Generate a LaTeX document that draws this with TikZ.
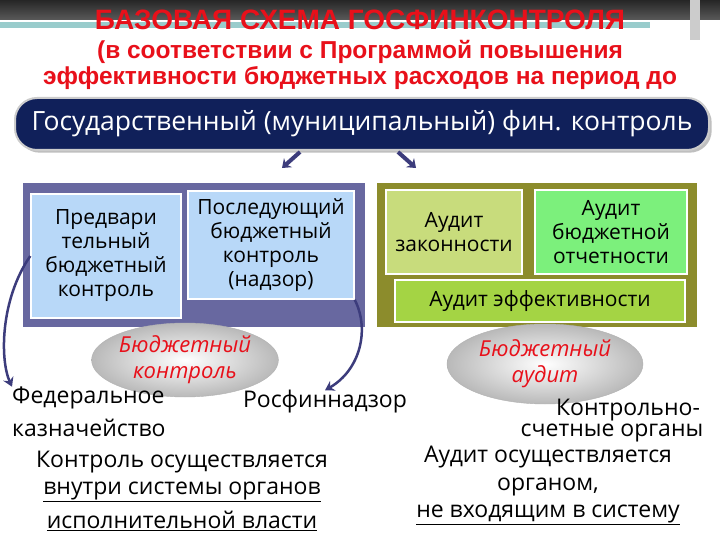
\documentclass[tikz,border=0pt]{standalone}
\usepackage{fontspec}
\setmainfont{Open Sans}
\newfontfamily\arialf{Liberation Sans}
\usetikzlibrary{shapes.geometric,arrows.meta,shadows}
\definecolor{navy}{HTML}{10205A}
\definecolor{slate}{HTML}{6868A0}
\definecolor{olive}{HTML}{8C8C2C}
\definecolor{lblue}{HTML}{B8D8F8}
\definecolor{lgreen}{HTML}{C8DC7C}
\definecolor{bgreen}{HTML}{7CF07C}
\definecolor{mgreen}{HTML}{A4D444}
\definecolor{titlered}{HTML}{E8101A}
\definecolor{arr}{HTML}{3C3C7C}
\tikzset{
 inbox/.style={draw=white,line width=1.5pt,align=center,font=\fontsize{21}{24}\selectfont,inner sep=0pt},
 ell/.style={ellipse,draw=gray!60,inner color=white,outer color=gray!55,font=\fontsize{22}{26}\selectfont\itshape\color{titlered},align=center,inner sep=0pt},
 body/.style={font=\fontsize{23}{26}\selectfont,inner sep=0pt},
 red/.style={font=\arialf\bfseries\fontsize{24.5}{28}\selectfont,text=titlered,inner sep=0pt},
 carr/.style={draw=arr,line width=2.5pt,-{Stealth[length=9pt,width=11pt]}}
}
\begin{document}
\begin{tikzpicture}[x=1pt,y=-1pt]
\useasboundingbox (0,0) rectangle (720,540);
\fill[white] (0,0) rectangle (720,540);
\fill[top color=black!85,bottom color=black!65] (0,0) rectangle (720,20);
\fill[teal!40] (0,22) rectangle (650,28);
\fill[black!20] (690,0) rectangle (700,40);
\node[red,font=\arialf\bfseries\fontsize{28}{32}\selectfont] (t1) at (360,20) {БАЗОВАЯ СХЕМА ГОСФИНКОНТРОЛЯ};
\node[red] (t2) at (360,52) {(в соответствии с Программой  повышения};
\node[red] (t3) at (360,78) {эффективности бюджетных расходов на период до};
\node[draw=gray!40,line width=2pt,fill=navy,rounded corners=22pt,minimum width=694pt,minimum height=52pt,text=white,font=\fontsize{26.5}{30}\selectfont,drop shadow] (gov) at (362,124) {Государственный (муниципальный) фин. контроль};
\draw[arr,line width=4pt,-{Stealth[length=8pt,width=12pt]}] (300,152) -- (282,168);
\draw[arr,line width=4pt,-{Stealth[length=8pt,width=12pt]}] (398,152) -- (416,168);
% left panel
\node[fill=slate,minimum width=342pt,minimum height=144pt,inner sep=0pt] (lp) at (194,255) {};
\node[inbox,fill=lblue,minimum width=150pt,minimum height=124pt] (pre) at (106,256) {Предвари\\тельный\\бюджетный\\контроль};
\node[inbox,fill=lblue,minimum width=166pt,minimum height=108pt] (post) at (271,245) {Последующий\\бюджетный\\контроль\\(надзор)};
% right panel
\node[fill=olive,minimum width=320pt,minimum height=144pt,inner sep=0pt] (rp) at (537,255) {};
\node[inbox,fill=lgreen,minimum width=136pt,minimum height=84pt] (zak) at (454,232) {Аудит\\законности};
\node[inbox,fill=bgreen,minimum width=152pt,minimum height=84pt] (otch) at (611,232) {Аудит\\бюджетной\\отчетности};
\node[inbox,fill=mgreen,minimum width=290pt,minimum height=42pt] (eff) at (540,301) {Аудит эффективности};
% ellipses
\node[ell,minimum width=180pt,minimum height=74pt] (bk) at (185,360) {Бюджетный\\контроль};
\node[ell,minimum width=196pt,minimum height=80pt] (ba) at (545,364) {Бюджетный\\аудит};
% texts
\node[body,anchor=west] (fed) at (12,398) {Федеральное};
\node[body,anchor=west] (kaz) at (12,428) {казначейство};
\node[body] (rfn) at (325,402) {Росфиннадзор};
\node[body] (kso1) at (628,410) {Контрольно-};
\node[body] (kso2) at (612,433) {счетные органы};
\node[body] (c1) at (182,462) {Контроль осуществляется};
\node[body] (c2) at (182,492) {\underline{внутри системы органов}};
\node[body] (c3) at (182,521) {\underline{исполнительной власти}};
\node[body] (a1) at (548,457) {Аудит осуществляется};
\node[body] (a2) at (548,487) {органом,};
\node[body] (a3) at (548,515) {\underline{не входящим в систему}};
% curved arrows
\draw[carr] (pre.west) .. controls (0,300) and (0,360) .. (fed.north west);
\draw[carr] (post.south east) .. controls (370,330) and (360,370) .. (rfn.north);
\end{tikzpicture}
\end{document}
